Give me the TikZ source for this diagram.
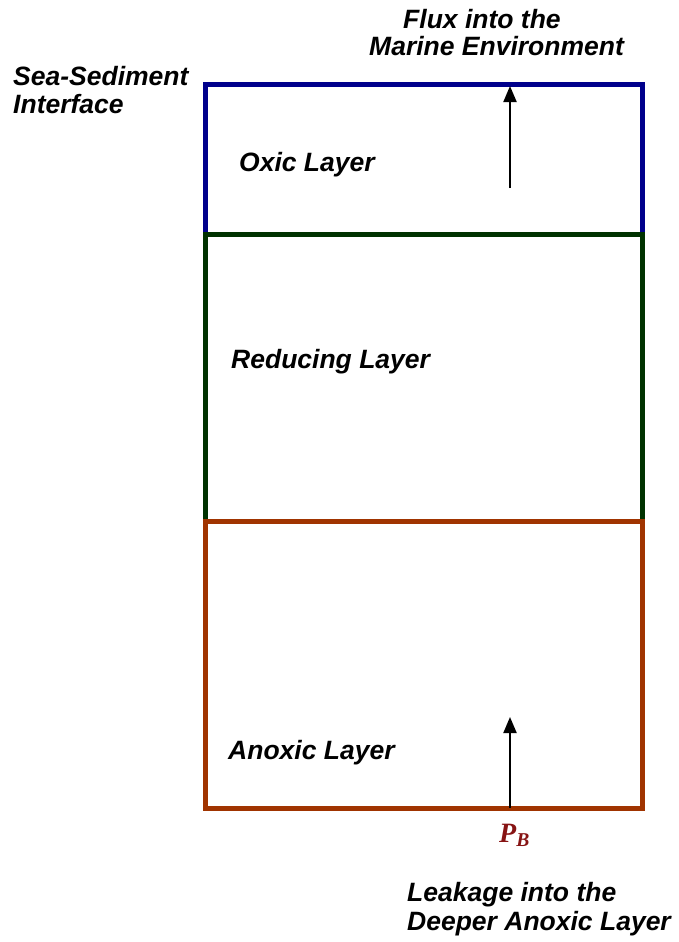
\documentclass[tikz,border=0pt]{standalone}
\usepackage{fontspec}
\setmainfont{Liberation Sans}
\newfontfamily\tnrfont{Liberation Serif}
\usetikzlibrary{arrows.meta}
\definecolor{oxblue}{RGB}{0,0,140}
\definecolor{redgreen}{RGB}{0,50,0}
\definecolor{anbrown}{RGB}{160,52,0}
\definecolor{pbred}{RGB}{135,20,20}
\tikzset{
  lbl/.style={inner sep=0pt, anchor=base west, font=\fontsize{26.5}{28}\selectfont\bfseries\itshape},
  layerbox/.style={line width=5pt},
  flux/.style={line width=2pt, -{Triangle[length=16pt,width=13pt]}}
}
\begin{document}
\begin{tikzpicture}[x=1pt,y=-1pt]
\useasboundingbox (0,0) rectangle (678,942);
% layers
\draw[layerbox, oxblue] (205,84) rectangle (642,234);
\draw[layerbox, redgreen] (205,234) rectangle (642,521);
\draw[layerbox, anbrown] (205,521) rectangle (642,808);
% labels
\node[lbl] (flux1) at (403,29) {Flux into the};
\node[lbl] (flux2) at (369,56) {Marine Environment};
\node[lbl] (sea1) at (13,85) {Sea-Sediment};
\node[lbl] (sea2) at (13,113) {Interface};
\node[lbl] (oxic) at (239,171) {Oxic Layer};
\node[lbl] (red) at (231,368) {Reducing Layer};
\node[lbl] (anox) at (228,759) {Anoxic Layer};
\node[lbl] (leak1) at (407,901) {Leakage into the};
\node[lbl] (leak2) at (407,930) {Deeper Anoxic Layer};
\node[inner sep=0pt, anchor=base west, text=pbred, font=\fontsize{28}{30}\selectfont\tnrfont\bfseries\itshape] (pb) at (499,842) {P\textsubscript{B}};
% arrows
\coordinate (ftop) at (510,86);
\coordinate (fbot) at (510,188);
\coordinate (ltop) at (510,717);
\coordinate (lbot) at (510,808);
\draw[flux] (fbot) -- (ftop);
\draw[flux] (lbot) -- (ltop);
\end{tikzpicture}
\end{document}
